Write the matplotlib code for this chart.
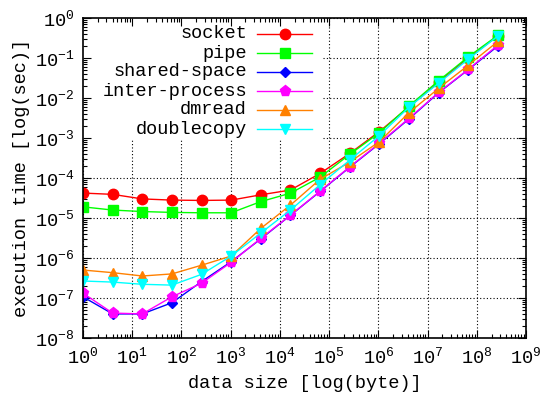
import numpy as np
import matplotlib
matplotlib.use("Agg")
import matplotlib.pyplot as plt
from matplotlib.ticker import LogLocator, LogFormatterSciNotation, NullFormatter
from matplotlib.patches import Rectangle

# 转换数据量（字节）与执行时间（秒）
sizes = [1, 4, 16, 64, 256, 1024, 4096, 16384, 65536, 262144,
         1048576, 4194304, 16777216, 67108864, 268435456]

socket = [4.2e-5, 3.9e-5, 3.0e-5, 2.8e-5, 2.75e-5, 2.8e-5, 3.8e-5, 5.0e-5,
          1.3e-4, 4.1e-4, 1.45e-3, 6.0e-3, 2.5e-2, 0.10, 0.355]
pipe = [1.9e-5, 1.58e-5, 1.45e-5, 1.38e-5, 1.35e-5, 1.35e-5, 2.57e-5, 4.17e-5,
        1.05e-4, 3.9e-4, 1.35e-3, 6.3e-3, 2.7e-2, 0.107, 0.37]
shared_space = [1.07e-7, 4.0e-8, 4.0e-8, 7.6e-8, 2.57e-7, 8.1e-7, 3.0e-6, 1.17e-5,
                4.6e-5, 1.86e-4, 7.2e-4, 3.0e-3, 1.35e-2, 5.1e-2, 0.20]
inter_process = [1.32e-7, 4.2e-8, 4.0e-8, 1.07e-7, 2.34e-7, 7.8e-7, 3.1e-6, 1.17e-5,
                 4.7e-5, 1.9e-4, 7.4e-4, 3.1e-3, 1.38e-2, 5.2e-2, 0.21]
dmread = [5.0e-7, 4.3e-7, 3.55e-7, 4.0e-7, 6.6e-7, 1.12e-6, 5.5e-6, 2.1e-5,
          9.3e-5, 2.5e-4, 8.1e-4, 4.3e-3, 1.74e-2, 6.6e-2, 0.26]
doublecopy = [2.66e-7, 2.5e-7, 2.2e-7, 2.1e-7, 3.9e-7, 1.12e-6, 4.2e-6, 1.58e-5,
              6.8e-5, 2.8e-4, 1.15e-3, 5.9e-3, 2.35e-2, 9.3e-2, 0.355]

labels = ['socket', 'pipe', 'shared-space', 'inter-process', 'dmread', 'doublecopy']
series = [socket, pipe, shared_space, inter_process, dmread, doublecopy]
colors = ['#ff0000', '#00ff00', '#0000ff', '#ff00ff', '#ff8000', '#00ffff']
markers = ['o', 's', 'D', 'p', '^', 'v']
msizes = [7.5, 7.5, 5, 8, 7.5, 7.5]

plt.rcParams['font.family'] = ['Liberation Mono', 'DejaVu Sans']
plt.rcParams['font.size'] = 13.4
plt.rcParams['mathtext.fontset'] = 'custom'
plt.rcParams['mathtext.rm'] = 'Liberation Mono'
plt.rcParams['mathtext.it'] = 'Liberation Mono'
plt.rcParams['mathtext.bf'] = 'Liberation Mono'

fig = plt.figure(figsize=(5.4, 4.0), dpi=100)
ax = fig.add_axes([0.1537, 0.155, 0.8204, 0.8])

ax.set_xscale('log')
ax.set_yscale('log')
ax.set_xlim(1, 1e9)
ax.set_ylim(1e-8, 1)

ax.xaxis.set_major_locator(LogLocator(base=10, numticks=20))
ax.yaxis.set_major_locator(LogLocator(base=10, numticks=20))
ax.xaxis.set_minor_locator(LogLocator(base=10, subs=np.arange(2, 10), numticks=200))
ax.yaxis.set_minor_locator(LogLocator(base=10, subs=np.arange(2, 10), numticks=200))
ax.xaxis.set_major_formatter(LogFormatterSciNotation())
ax.yaxis.set_major_formatter(LogFormatterSciNotation())
ax.xaxis.set_minor_formatter(NullFormatter())
ax.yaxis.set_minor_formatter(NullFormatter())
ax.tick_params(which='both', direction='in', top=True, right=True, width=0.8)
ax.tick_params(which='major', length=6, pad=6)
ax.tick_params(which='minor', length=3)
for sp in ax.spines.values():
    sp.set_linewidth(1.2)

# 网格（虚线），图例区域用白色遮挡
for xv in ax.get_xticks()[1:-1]:
    ax.axvline(xv, color='black', lw=0.8, ls=(0, (1, 2)), zorder=0.3)
for yv in ax.get_yticks()[1:-1]:
    ax.axhline(yv, color='black', lw=0.8, ls=(0, (1, 2)), zorder=0.3)
ax.add_patch(Rectangle((0, 0.619), 0.542, 0.381, transform=ax.transAxes,
                       facecolor='white', edgecolor='none', zorder=0.6))

for lab, ys, c, m, ms in zip(labels, series, colors, markers, msizes):
    ax.plot(sizes, ys, color=c, lw=1.0, marker=m, ms=ms, mec=c, mfc=c, zorder=2)

# 手动绘制图例：文字右对齐，样例线在右侧
for i, (lab, c, m, ms) in enumerate(zip(labels, colors, markers, msizes)):
    yy = 1 - (16 + 19 * i) / 320
    ax.text(0.370, yy, lab, transform=ax.transAxes, ha='right', va='center')
    ax.plot([0.393, 0.517], [yy, yy], transform=ax.transAxes, color=c, lw=1.0,
            clip_on=False, zorder=3)
    ax.plot([0.455], [yy], transform=ax.transAxes, color=c, marker=m, ms=ms,
            mec=c, mfc=c, clip_on=False, zorder=3)

ax.set_xlabel('data size [log(byte)]', labelpad=6)
ax.set_ylabel('execution time [log(sec)]', labelpad=4)

fig.savefig('out.png', dpi=100)
